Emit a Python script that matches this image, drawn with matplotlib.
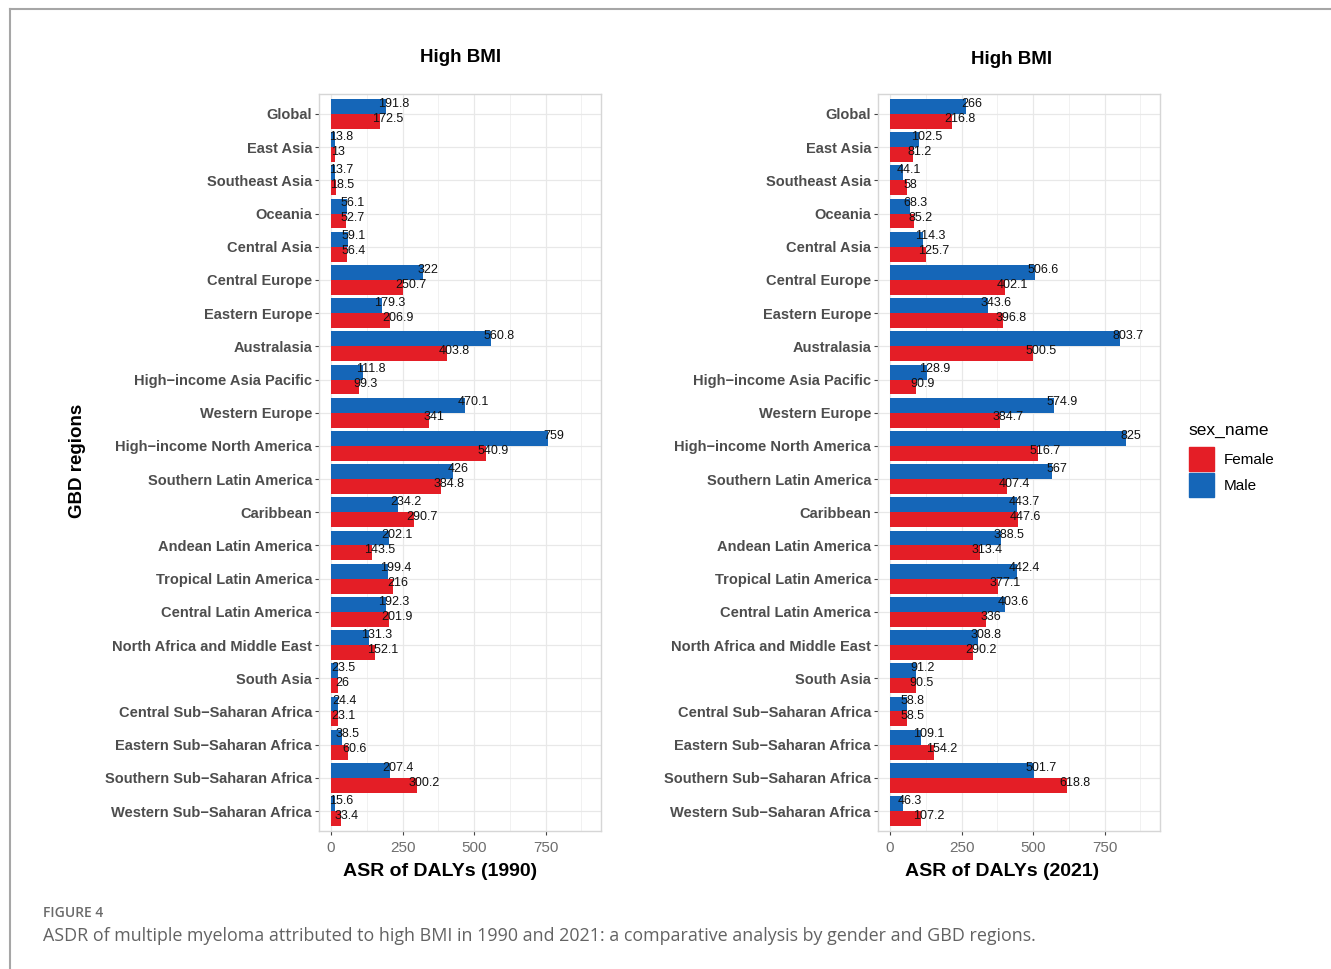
import matplotlib
matplotlib.use("Agg")
import matplotlib.pyplot as plt
from matplotlib.lines import Line2D
from matplotlib.patches import Patch
import numpy as np

plt.rcParams['font.family'] = ['Liberation Sans', 'DejaVu Sans']

regions = [
    "Global", "East Asia", "Southeast Asia", "Oceania", "Central Asia",
    "Central Europe", "Eastern Europe", "Australasia", "High\u2212income Asia Pacific",
    "Western Europe", "High\u2212income North America", "Southern Latin America",
    "Caribbean", "Andean Latin America", "Tropical Latin America",
    "Central Latin America", "North Africa and Middle East", "South Asia",
    "Central Sub\u2212Saharan Africa", "Eastern Sub\u2212Saharan Africa",
    "Southern Sub\u2212Saharan Africa", "Western Sub\u2212Saharan Africa",
]

male_1990 = [191.8, 13.8, 13.7, 56.1, 59.1, 322, 179.3, 560.8, 111.8, 470.1, 759,
             426, 234.2, 202.1, 199.4, 192.3, 131.3, 23.5, 24.4, 38.5, 207.4, 15.6]
female_1990 = [172.5, 13, 18.5, 52.7, 56.4, 250.7, 206.9, 403.8, 99.3, 341, 540.9,
               384.8, 290.7, 143.5, 216, 201.9, 152.1, 26, 23.1, 60.6, 300.2, 33.4]
male_2021 = [266, 102.5, 44.1, 68.3, 114.3, 506.6, 343.6, 803.7, 128.9, 574.9, 825,
             567, 443.7, 388.5, 442.4, 403.6, 308.8, 91.2, 58.8, 109.1, 501.7, 46.3]
female_2021 = [216.8, 81.2, 58, 85.2, 125.7, 402.1, 396.8, 500.5, 90.9, 384.7, 516.7,
               407.4, 447.6, 313.4, 377.1, 336, 290.2, 90.5, 58.5, 154.2, 618.8, 107.2]

x_ticks = [0, 250, 500, 750]
RED = "#E41E26"
BLUE = "#1566B8"

fig = plt.figure(figsize=(13.31, 9.69), dpi=100)

# page frame lines
fig.add_artist(Line2D([10 / 1331, 1.0], [1 - 9 / 969, 1 - 9 / 969], color="#A6A6A6", lw=1.5))
fig.add_artist(Line2D([10 / 1331, 10 / 1331], [0.0, 1 - 9 / 969], color="#A6A6A6", lw=1.5))

ax_w = 282 / 1331
ax_b = 1 - 831 / 969
ax_h = (831 - 94) / 969
ax1 = fig.add_axes([319 / 1331, ax_b, ax_w, ax_h])
ax2 = fig.add_axes([878 / 1331, ax_b, ax_w, ax_h])

label_texts = []


def draw_panel(ax, male, female, xlabel, xlabel_x):
    y = np.arange(len(regions))
    h = 0.45
    ax.barh(y - h / 2, male, height=h, color=BLUE, zorder=2)
    ax.barh(y + h / 2, female, height=h, color=RED, zorder=2)
    for yi, v in zip(y, male):
        t = ax.annotate(f"{v:g}", xy=(v, yi - h / 2), xytext=(0, 2.0),
                        textcoords="offset points", ha="left", va="center",
                        fontsize=9, color="#111111", zorder=3)
        label_texts.append(t)
    for yi, v in zip(y, female):
        t = ax.annotate(f"{v:g}", xy=(v, yi + h / 2), xytext=(0, 2.0),
                        textcoords="offset points", ha="left", va="center",
                        fontsize=9, color="#111111", zorder=3)
        label_texts.append(t)

    ax.set_xlim(-42, 944)
    ax.set_ylim(len(regions) - 0.4, -0.6)
    ax.set_yticks(y)
    ax.set_yticklabels(regions, fontsize=10.5, fontweight="bold", color="#4D4D4D",
                       va="center_baseline")
    ax.set_xticks(x_ticks)
    ax.set_xticklabels([str(v) for v in x_ticks], fontsize=11, color="#6E6E6E")
    ax.set_xticks([125, 375, 625, 875], minor=True)
    ax.grid(which="major", color="#E8E8E8", lw=0.9, zorder=0)
    ax.grid(which="minor", axis="x", color="#F1F1F1", lw=0.7, zorder=0)
    ax.set_axisbelow(True)
    ax.tick_params(axis="y", which="major", length=3, color="#444444", width=0.8, pad=2)
    ax.tick_params(axis="x", which="major", length=3, color="#444444", width=0.8, pad=4)
    ax.tick_params(axis="x", which="minor", length=0)
    for s in ax.spines.values():
        s.set_color("#D6D6D6")
        s.set_linewidth(1.0)
    ax.set_xlabel(xlabel, fontsize=14, fontweight="bold", color="black", va="center")
    ax.xaxis.set_label_coords(xlabel_x, -0.0555)


draw_panel(ax1, male_1990, female_1990, "ASR of DALYs (1990)", 0.429)
draw_panel(ax2, male_2021, female_2021, "ASR of DALYs (2021)", 0.440)

fig.text(461 / 1331, 1 - 57 / 969, "High BMI", ha="center", va="center",
         fontsize=13.5, fontweight="bold")
fig.text(1012 / 1331, 1 - 60 / 969, "High BMI", ha="center", va="center",
         fontsize=13.5, fontweight="bold")
fig.text(77 / 1331, 1 - 461 / 969, "GBD regions", ha="center", va="center",
         rotation=90, fontsize=13.5, fontweight="bold")

# legend: title and keys
fig.text(1188 / 1331, 1 - 431 / 969, "sex_name", ha="left", va="center", fontsize=12.5)
handles = [Patch(facecolor=RED, edgecolor=RED), Patch(facecolor=BLUE, edgecolor=BLUE)]
leg = fig.legend(handles, ["Female", "Male"],
                 loc="upper left", bbox_to_anchor=(1189 / 1331, 1 - 447 / 969),
                 frameon=False, fontsize=11,
                 handlelength=1.65, handleheight=2.05, handletextpad=0.65,
                 labelspacing=0.12, borderaxespad=0, borderpad=0)

# caption
fig.text(43 / 1331, 1 - 913 / 969, "FIGURE 4", ha="left", va="center",
         fontsize=10, color="#6B6B6B", family=["Open Sans", "DejaVu Sans"], fontweight="semibold")
fig.text(43 / 1331, 1 - 936 / 969,
         "ASDR of multiple myeloma attributed to high BMI in 1990 and 2021: a comparative analysis by gender and GBD regions.",
         ha="left", va="center", fontsize=12.9, color="#636363",
         family=["Open Sans", "DejaVu Sans"])

# shift value labels so that about a quarter of each sits over the bar end
fig.canvas.draw()
renderer = fig.canvas.get_renderer()
for t in label_texts:
    w_px = t.get_window_extent(renderer).width
    w_pt = w_px * 72 / fig.dpi
    t.xyann = (-0.25 * w_pt, 2.0)

fig.savefig("out.png", dpi=100)
